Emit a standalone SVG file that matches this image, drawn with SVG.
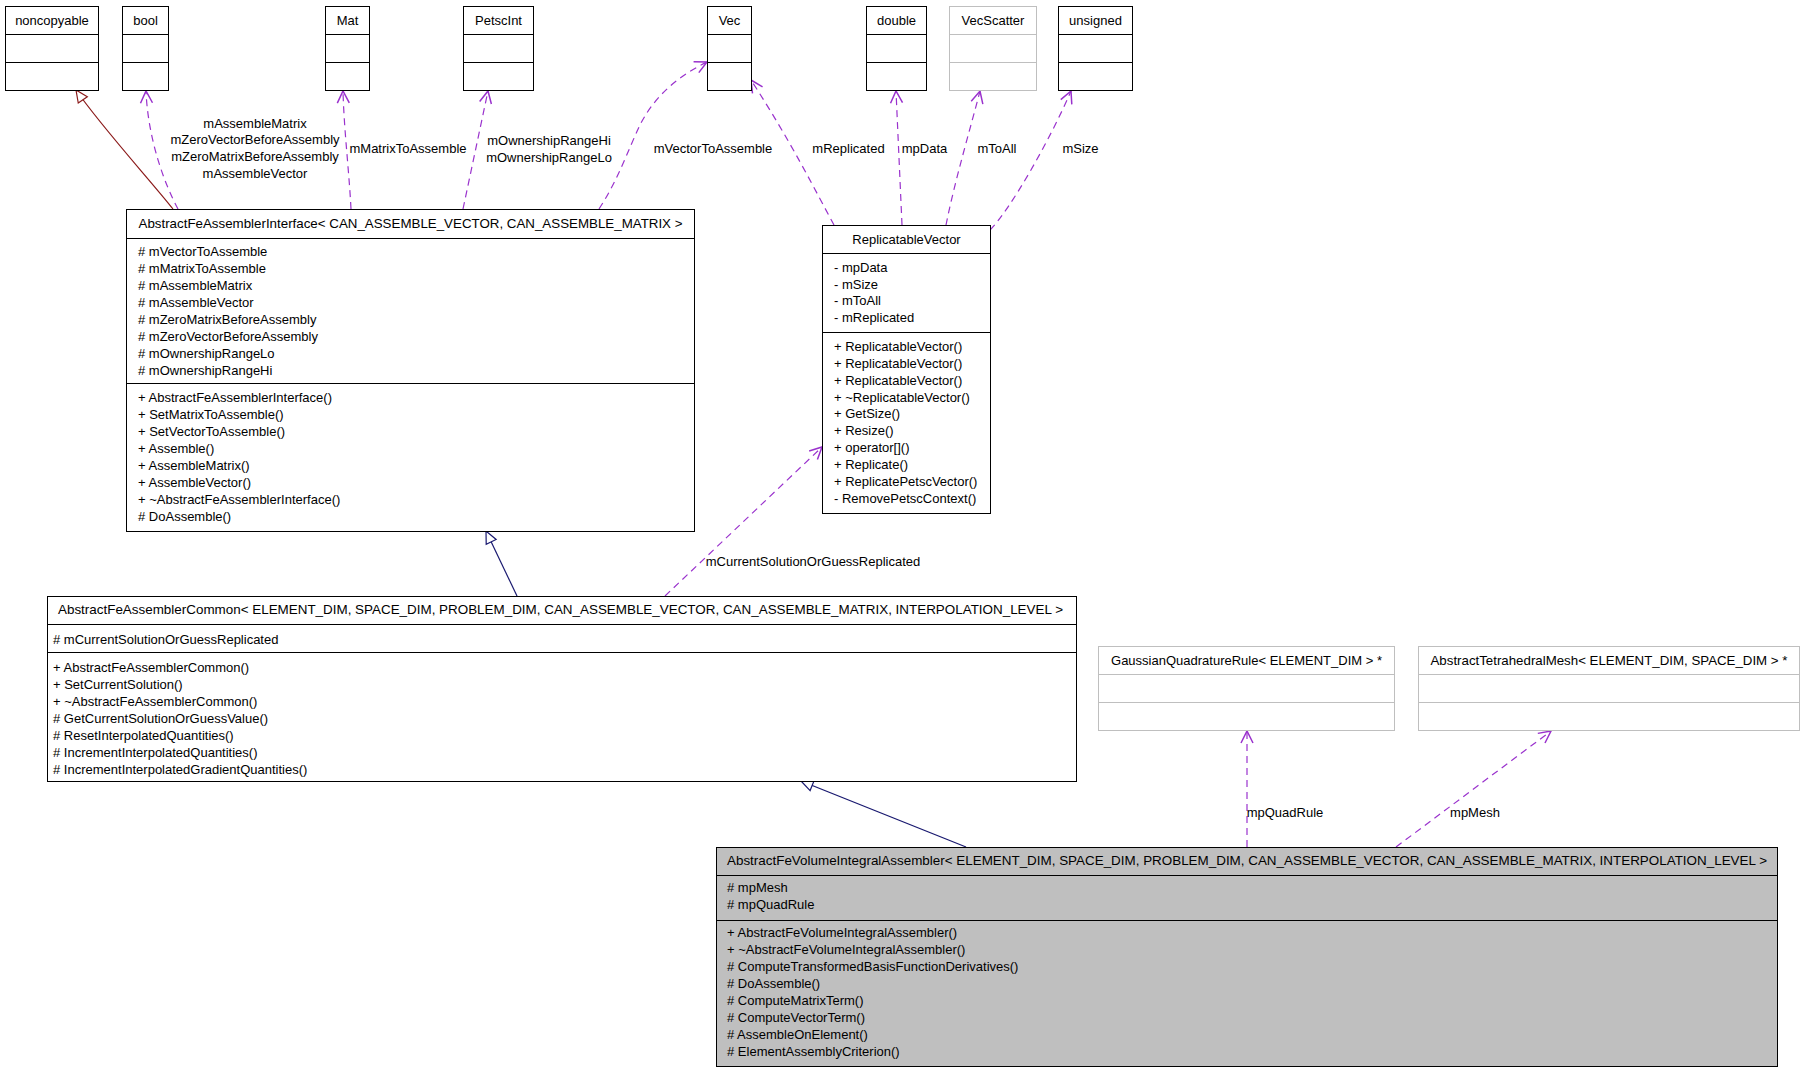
<svg xmlns="http://www.w3.org/2000/svg" width="1805" height="1072" viewBox="0 0 1805 1072">
<style>
text{font-family:"Liberation Sans",Arial,sans-serif;font-size:13px;fill:#000}
.t{text-anchor:middle}
.box{fill:#fff;stroke:#000;stroke-width:1}
.gbox{fill:#fff;stroke:#bfbfbf;stroke-width:1}
.sel{fill:#bfbfbf;stroke:#000;stroke-width:1}
.ln{stroke:#000;stroke-width:1}
.gln{stroke:#bfbfbf;stroke-width:1}
.use{fill:none;stroke:#9a32cd;stroke-width:1.2;stroke-dasharray:7,5}
.inhB{fill:none;stroke:#191970;stroke-width:1.2}
.inhR{fill:none;stroke:#8b1a1a;stroke-width:1.2}
.lbl{text-anchor:middle}
</style>
<defs>
<marker id="vee" markerUnits="userSpaceOnUse" markerWidth="16" markerHeight="14" refX="12" refY="6" orient="auto" overflow="visible">
<path d="M0,0 L12,6 L0,12" fill="none" stroke="#9a32cd" stroke-width="1.5"/>
</marker>
<marker id="triB" markerUnits="userSpaceOnUse" markerWidth="16" markerHeight="14" refX="12" refY="5.5" orient="auto" overflow="visible">
<path d="M0,0 L12,5.5 L0,11 Z" fill="#fff" stroke="#191970" stroke-width="1.2"/>
</marker>
<marker id="triR" markerUnits="userSpaceOnUse" markerWidth="16" markerHeight="14" refX="12" refY="5.5" orient="auto" overflow="visible">
<path d="M0,0 L12,5.5 L0,11 Z" fill="#fff" stroke="#8b1a1a" stroke-width="1.2"/>
</marker>
</defs>
<rect x="0" y="0" width="1805" height="1072" fill="#fff"/>

<g id="connectors">
<path class="inhR" d="M173,209 C150,180 100,125 76,90" marker-end="url(#triR)"/>
<path class="use" d="M178,209 C165,185 148,140 146,91" marker-end="url(#vee)"/>
<path class="use" d="M351,209 C349,170 344,130 343,91" marker-end="url(#vee)"/>
<path class="use" d="M463,209 L488,91" marker-end="url(#vee)"/>
<path class="use" d="M599,209 C618,180 628,150 640,125 C655,95 680,75 707,62" marker-end="url(#vee)"/>
<path class="use" d="M834,225 C815,190 790,140 751,80" marker-end="url(#vee)"/>
<path class="use" d="M902,225 L896,91" marker-end="url(#vee)"/>
<path class="use" d="M946,225 C955,180 970,130 980,91" marker-end="url(#vee)"/>
<path class="use" d="M990,230 C1010,210 1050,140 1071,91" marker-end="url(#vee)"/>
<path class="inhB" d="M517,596 L486,531" marker-end="url(#triB)"/>
<path class="use" d="M665,596 L822,447" marker-end="url(#vee)"/>
<path class="inhB" d="M966,847 L801,781" marker-end="url(#triB)"/>
<path class="use" d="M1247,847 L1247,731" marker-end="url(#vee)"/>
<path class="use" d="M1396,847 L1551,731" marker-end="url(#vee)"/>
<text class="lbl" x="255" y="127.5">mAssembleMatrix</text>
<text class="lbl" x="255" y="144">mZeroVectorBeforeAssembly</text>
<text class="lbl" x="255" y="161">mZeroMatrixBeforeAssembly</text>
<text class="lbl" x="255" y="178">mAssembleVector</text>
<text class="lbl" x="408" y="152.5">mMatrixToAssemble</text>
<text class="lbl" x="549" y="144.5">mOwnershipRangeHi</text>
<text class="lbl" x="549" y="161.5">mOwnershipRangeLo</text>
<text class="lbl" x="713" y="152.5">mVectorToAssemble</text>
<text class="lbl" x="848.5" y="152.5">mReplicated</text>
<text class="lbl" x="924.5" y="152.5">mpData</text>
<text class="lbl" x="997" y="152.5">mToAll</text>
<text class="lbl" x="1080.5" y="152.5">mSize</text>
<text class="lbl" x="813" y="566">mCurrentSolutionOrGuessReplicated</text>
<text class="lbl" x="1285" y="817">mpQuadRule</text>
<text class="lbl" x="1475" y="817">mpMesh</text>
</g>

<g id="noncopyable">
<rect class="box" x="5.5" y="6.5" width="93" height="84"/>
<line class="ln" x1="5.5" y1="34.5" x2="98.5" y2="34.5"/>
<line class="ln" x1="5.5" y1="62.5" x2="98.5" y2="62.5"/>
<text class="t" x="52" y="25">noncopyable</text>
</g>
<g id="bool">
<rect class="box" x="122.5" y="6.5" width="46" height="84"/>
<line class="ln" x1="122.5" y1="34.5" x2="168.5" y2="34.5"/>
<line class="ln" x1="122.5" y1="62.5" x2="168.5" y2="62.5"/>
<text class="t" x="145.5" y="25">bool</text>
</g>
<g id="Mat">
<rect class="box" x="325.5" y="6.5" width="44" height="84"/>
<line class="ln" x1="325.5" y1="34.5" x2="369.5" y2="34.5"/>
<line class="ln" x1="325.5" y1="62.5" x2="369.5" y2="62.5"/>
<text class="t" x="347.5" y="25">Mat</text>
</g>
<g id="PetscInt">
<rect class="box" x="463.5" y="6.5" width="70" height="84"/>
<line class="ln" x1="463.5" y1="34.5" x2="533.5" y2="34.5"/>
<line class="ln" x1="463.5" y1="62.5" x2="533.5" y2="62.5"/>
<text class="t" x="498.5" y="25">PetscInt</text>
</g>
<g id="Vec">
<rect class="box" x="707.5" y="6.5" width="44" height="84"/>
<line class="ln" x1="707.5" y1="34.5" x2="751.5" y2="34.5"/>
<line class="ln" x1="707.5" y1="62.5" x2="751.5" y2="62.5"/>
<text class="t" x="729.5" y="25">Vec</text>
</g>
<g id="double">
<rect class="box" x="866.5" y="6.5" width="60" height="84"/>
<line class="ln" x1="866.5" y1="34.5" x2="926.5" y2="34.5"/>
<line class="ln" x1="866.5" y1="62.5" x2="926.5" y2="62.5"/>
<text class="t" x="896.5" y="25">double</text>
</g>
<g id="VecScatter">
<rect class="gbox" x="949.5" y="6.5" width="87" height="84"/>
<line class="gln" x1="949.5" y1="34.5" x2="1036.5" y2="34.5"/>
<line class="gln" x1="949.5" y1="62.5" x2="1036.5" y2="62.5"/>
<text class="t" x="993" y="25">VecScatter</text>
</g>
<g id="unsigned">
<rect class="box" x="1058.5" y="6.5" width="74" height="84"/>
<line class="ln" x1="1058.5" y1="34.5" x2="1132.5" y2="34.5"/>
<line class="ln" x1="1058.5" y1="62.5" x2="1132.5" y2="62.5"/>
<text class="t" x="1095.5" y="25">unsigned</text>
</g>

<g id="AbstractFeAssemblerInterface">
<rect class="box" x="126.5" y="209.5" width="568" height="322"/>
<line class="ln" x1="126.5" y1="238.5" x2="694.5" y2="238.5"/>
<line class="ln" x1="126.5" y1="383.5" x2="694.5" y2="383.5"/>
<text class="t" x="410.5" y="228" textLength="544" lengthAdjust="spacingAndGlyphs">AbstractFeAssemblerInterface&lt; CAN_ASSEMBLE_VECTOR, CAN_ASSEMBLE_MATRIX &gt;</text>
<text x="138" y="255.5"># mVectorToAssemble</text>
<text x="138" y="272.5"># mMatrixToAssemble</text>
<text x="138" y="289.5"># mAssembleMatrix</text>
<text x="138" y="306.5"># mAssembleVector</text>
<text x="138" y="323.5"># mZeroMatrixBeforeAssembly</text>
<text x="138" y="340.5"># mZeroVectorBeforeAssembly</text>
<text x="138" y="357.5"># mOwnershipRangeLo</text>
<text x="138" y="374.5"># mOwnershipRangeHi</text>
<text x="138" y="401.5">+ AbstractFeAssemblerInterface()</text>
<text x="138" y="418.5">+ SetMatrixToAssemble()</text>
<text x="138" y="435.5">+ SetVectorToAssemble()</text>
<text x="138" y="452.5">+ Assemble()</text>
<text x="138" y="469.5">+ AssembleMatrix()</text>
<text x="138" y="486.5">+ AssembleVector()</text>
<text x="138" y="503.5">+ ~AbstractFeAssemblerInterface()</text>
<text x="138" y="520.5"># DoAssemble()</text>
</g>

<g id="ReplicatableVector">
<rect class="box" x="822.5" y="225.5" width="168" height="288"/>
<line class="ln" x1="822.5" y1="253.5" x2="990.5" y2="253.5"/>
<line class="ln" x1="822.5" y1="332.5" x2="990.5" y2="332.5"/>
<text class="t" x="906.5" y="244">ReplicatableVector</text>
<text x="834" y="271.5">- mpData</text>
<text x="834" y="288.5">- mSize</text>
<text x="834" y="305">- mToAll</text>
<text x="834" y="322">- mReplicated</text>
<text x="834" y="350.5">+ ReplicatableVector()</text>
<text x="834" y="367.5">+ ReplicatableVector()</text>
<text x="834" y="384.5">+ ReplicatableVector()</text>
<text x="834" y="401.5">+ ~ReplicatableVector()</text>
<text x="834" y="418">+ GetSize()</text>
<text x="834" y="435">+ Resize()</text>
<text x="834" y="452">+ operator[]()</text>
<text x="834" y="469">+ Replicate()</text>
<text x="834" y="486">+ ReplicatePetscVector()</text>
<text x="834" y="503">- RemovePetscContext()</text>
</g>

<g id="AbstractFeAssemblerCommon">
<rect class="box" x="47.5" y="596.5" width="1029" height="185"/>
<line class="ln" x1="47.5" y1="624.5" x2="1076.5" y2="624.5"/>
<line class="ln" x1="47.5" y1="652.5" x2="1076.5" y2="652.5"/>
<text class="t" x="560.5" y="614" textLength="1005" lengthAdjust="spacingAndGlyphs">AbstractFeAssemblerCommon&lt; ELEMENT_DIM, SPACE_DIM, PROBLEM_DIM, CAN_ASSEMBLE_VECTOR, CAN_ASSEMBLE_MATRIX, INTERPOLATION_LEVEL &gt;</text>
<text x="53" y="643.5"># mCurrentSolutionOrGuessReplicated</text>
<text x="53" y="672">+ AbstractFeAssemblerCommon()</text>
<text x="53" y="689">+ SetCurrentSolution()</text>
<text x="53" y="706">+ ~AbstractFeAssemblerCommon()</text>
<text x="53" y="723"># GetCurrentSolutionOrGuessValue()</text>
<text x="53" y="740"># ResetInterpolatedQuantities()</text>
<text x="53" y="757"># IncrementInterpolatedQuantities()</text>
<text x="53" y="774"># IncrementInterpolatedGradientQuantities()</text>
</g>

<g id="GaussianQuadratureRule">
<rect class="gbox" x="1098.5" y="646.5" width="296" height="84"/>
<line class="gln" x1="1098.5" y1="674.5" x2="1394.5" y2="674.5"/>
<line class="gln" x1="1098.5" y1="702.5" x2="1394.5" y2="702.5"/>
<text class="t" x="1246.5" y="665">GaussianQuadratureRule&lt; ELEMENT_DIM &gt; *</text>
</g>

<g id="AbstractTetrahedralMesh">
<rect class="gbox" x="1418.5" y="646.5" width="381" height="84"/>
<line class="gln" x1="1418.5" y1="674.5" x2="1799.5" y2="674.5"/>
<line class="gln" x1="1418.5" y1="702.5" x2="1799.5" y2="702.5"/>
<text class="t" x="1609" y="665" textLength="357" lengthAdjust="spacingAndGlyphs">AbstractTetrahedralMesh&lt; ELEMENT_DIM, SPACE_DIM &gt; *</text>
</g>

<g id="AbstractFeVolumeIntegralAssembler">
<rect class="sel" x="716.5" y="847.5" width="1061" height="219"/>
<line class="ln" x1="716.5" y1="875.5" x2="1777.5" y2="875.5"/>
<line class="ln" x1="716.5" y1="920.5" x2="1777.5" y2="920.5"/>
<text class="t" x="1247" y="864.5" textLength="1040" lengthAdjust="spacingAndGlyphs">AbstractFeVolumeIntegralAssembler&lt; ELEMENT_DIM, SPACE_DIM, PROBLEM_DIM, CAN_ASSEMBLE_VECTOR, CAN_ASSEMBLE_MATRIX, INTERPOLATION_LEVEL &gt;</text>
<text x="727" y="892"># mpMesh</text>
<text x="727" y="909"># mpQuadRule</text>
<text x="727" y="937">+ AbstractFeVolumeIntegralAssembler()</text>
<text x="727" y="954">+ ~AbstractFeVolumeIntegralAssembler()</text>
<text x="727" y="971"># ComputeTransformedBasisFunctionDerivatives()</text>
<text x="727" y="988"># DoAssemble()</text>
<text x="727" y="1005"># ComputeMatrixTerm()</text>
<text x="727" y="1022"># ComputeVectorTerm()</text>
<text x="727" y="1039"># AssembleOnElement()</text>
<text x="727" y="1056"># ElementAssemblyCriterion()</text>
</g>
</svg>
